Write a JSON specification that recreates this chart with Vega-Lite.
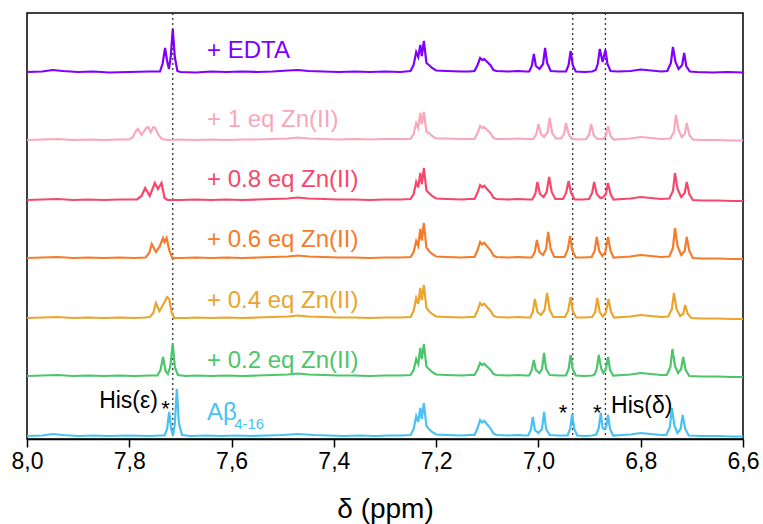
{
"$schema":"https://vega.github.io/schema/vega-lite/v6.json",
"width":716,"height":426,"autosize":"none",
"padding":{"left":27,"top":13,"right":20,"bottom":85},
"background":"white",
"config":{"view":{"stroke":"black","strokeWidth":1.5},"font":"Liberation Sans"},
"datasets":{
"spec":[
{"s":"EDTA","x":8.00,"y":367},{"s":"EDTA","x":7.97,"y":367.5},{"s":"EDTA","x":7.95,"y":369},{"s":"EDTA","x":7.93,"y":368},{"s":"EDTA","x":7.90,"y":367},{"s":"EDTA","x":7.87,"y":367.5},{"s":"EDTA","x":7.84,"y":366.5},{"s":"EDTA","x":7.80,"y":367},{"s":"EDTA","x":7.76,"y":367.5},{"s":"EDTA","x":7.740,"y":367.5},{"s":"EDTA","x":7.735,"y":375},{"s":"EDTA","x":7.730,"y":391},{"s":"EDTA","x":7.726,"y":378},{"s":"EDTA","x":7.7225,"y":370},{"s":"EDTA","x":7.719,"y":382},{"s":"EDTA","x":7.715,"y":410},{"s":"EDTA","x":7.711,"y":382},{"s":"EDTA","x":7.706,"y":368},{"s":"EDTA","x":7.70,"y":367},{"s":"EDTA","x":7.67,"y":366.5},{"s":"EDTA","x":7.64,"y":367.5},{"s":"EDTA","x":7.61,"y":367},{"s":"EDTA","x":7.58,"y":367.5},{"s":"EDTA","x":7.55,"y":367},{"s":"EDTA","x":7.52,"y":367.5},{"s":"EDTA","x":7.49,"y":368.5},{"s":"EDTA","x":7.47,"y":369},{"s":"EDTA","x":7.45,"y":368},{"s":"EDTA","x":7.42,"y":367.5},{"s":"EDTA","x":7.39,"y":367},{"s":"EDTA","x":7.36,"y":367.5},{"s":"EDTA","x":7.33,"y":367},{"s":"EDTA","x":7.30,"y":367.5},{"s":"EDTA","x":7.27,"y":367},
{"s":"EDTA","x":7.250,"y":368},{"s":"EDTA","x":7.244,"y":374},{"s":"EDTA","x":7.239,"y":387},{"s":"EDTA","x":7.235,"y":382},{"s":"EDTA","x":7.231,"y":394},{"s":"EDTA","x":7.228,"y":383},{"s":"EDTA","x":7.224,"y":398},{"s":"EDTA","x":7.219,"y":376},{"s":"EDTA","x":7.214,"y":374},{"s":"EDTA","x":7.208,"y":371},{"s":"EDTA","x":7.200,"y":368.5},{"s":"EDTA","x":7.18,"y":368},{"s":"EDTA","x":7.15,"y":367.5},{"s":"EDTA","x":7.135,"y":367.5},
{"s":"EDTA","x":7.125,"y":368},{"s":"EDTA","x":7.119,"y":374},{"s":"EDTA","x":7.114,"y":381},{"s":"EDTA","x":7.110,"y":379},{"s":"EDTA","x":7.106,"y":380},{"s":"EDTA","x":7.101,"y":377.5},{"s":"EDTA","x":7.097,"y":375.4},{"s":"EDTA","x":7.093,"y":373.3},{"s":"EDTA","x":7.088,"y":369},{"s":"EDTA","x":7.082,"y":368},{"s":"EDTA","x":7.06,"y":367.5},{"s":"EDTA","x":7.04,"y":368},{"s":"EDTA","x":7.025,"y":367.5},
{"s":"EDTA","x":7.018,"y":367.5},{"s":"EDTA","x":7.013,"y":373},{"s":"EDTA","x":7.009,"y":385},{"s":"EDTA","x":7.005,"y":373},{"s":"EDTA","x":6.998,"y":370},{"s":"EDTA","x":6.991,"y":375},{"s":"EDTA","x":6.987,"y":391},{"s":"EDTA","x":6.983,"y":376},{"s":"EDTA","x":6.976,"y":368},{"s":"EDTA","x":6.96,"y":367.5},
{"s":"EDTA","x":6.946,"y":367.5},{"s":"EDTA","x":6.941,"y":374},{"s":"EDTA","x":6.937,"y":388},{"s":"EDTA","x":6.933,"y":374},{"s":"EDTA","x":6.927,"y":367.5},{"s":"EDTA","x":6.91,"y":367},{"s":"EDTA","x":6.895,"y":367.5},
{"s":"EDTA","x":6.888,"y":369},{"s":"EDTA","x":6.884,"y":375},{"s":"EDTA","x":6.880,"y":390},{"s":"EDTA","x":6.8745,"y":377},{"s":"EDTA","x":6.869,"y":389},{"s":"EDTA","x":6.865,"y":375},{"s":"EDTA","x":6.859,"y":368},{"s":"EDTA","x":6.845,"y":367.5},{"s":"EDTA","x":6.82,"y":368},{"s":"EDTA","x":6.80,"y":369.5},{"s":"EDTA","x":6.78,"y":368.5},{"s":"EDTA","x":6.76,"y":367.5},
{"s":"EDTA","x":6.748,"y":368},{"s":"EDTA","x":6.741,"y":376},{"s":"EDTA","x":6.737,"y":392},{"s":"EDTA","x":6.732,"y":377},{"s":"EDTA","x":6.726,"y":370},{"s":"EDTA","x":6.719,"y":374},{"s":"EDTA","x":6.715,"y":386},{"s":"EDTA","x":6.711,"y":373},{"s":"EDTA","x":6.704,"y":367.5},{"s":"EDTA","x":6.69,"y":367},{"s":"EDTA","x":6.66,"y":366.5},{"s":"EDTA","x":6.63,"y":367},{"s":"EDTA","x":6.60,"y":366.5},

{"s":"1eq","x":8.00,"y":299},{"s":"1eq","x":7.97,"y":299.5},{"s":"1eq","x":7.94,"y":300},{"s":"1eq","x":7.91,"y":299},{"s":"1eq","x":7.88,"y":299.5},{"s":"1eq","x":7.85,"y":299},{"s":"1eq","x":7.82,"y":299.5},{"s":"1eq","x":7.80,"y":299.5},{"s":"1eq","x":7.793,"y":302},{"s":"1eq","x":7.787,"y":308},{"s":"1eq","x":7.783,"y":310},{"s":"1eq","x":7.776,"y":304},{"s":"1eq","x":7.767,"y":311},{"s":"1eq","x":7.763,"y":312},{"s":"1eq","x":7.758,"y":307},{"s":"1eq","x":7.753,"y":312},{"s":"1eq","x":7.749,"y":311},{"s":"1eq","x":7.743,"y":304},{"s":"1eq","x":7.736,"y":300},{"s":"1eq","x":7.725,"y":299},{"s":"1eq","x":7.70,"y":299.5},{"s":"1eq","x":7.67,"y":299},{"s":"1eq","x":7.64,"y":299.5},{"s":"1eq","x":7.61,"y":299},{"s":"1eq","x":7.58,"y":299.5},{"s":"1eq","x":7.55,"y":299.5},{"s":"1eq","x":7.52,"y":300},{"s":"1eq","x":7.49,"y":300.5},{"s":"1eq","x":7.47,"y":301.5},{"s":"1eq","x":7.45,"y":300.5},{"s":"1eq","x":7.42,"y":300},{"s":"1eq","x":7.39,"y":299.5},{"s":"1eq","x":7.36,"y":300},{"s":"1eq","x":7.33,"y":299.5},{"s":"1eq","x":7.30,"y":300},{"s":"1eq","x":7.27,"y":300},
{"s":"1eq","x":7.250,"y":300},{"s":"1eq","x":7.244,"y":305},{"s":"1eq","x":7.239,"y":316},{"s":"1eq","x":7.235,"y":311},{"s":"1eq","x":7.231,"y":326},{"s":"1eq","x":7.228,"y":315},{"s":"1eq","x":7.224,"y":327},{"s":"1eq","x":7.219,"y":307},{"s":"1eq","x":7.214,"y":306},{"s":"1eq","x":7.208,"y":303},{"s":"1eq","x":7.200,"y":300.5},{"s":"1eq","x":7.18,"y":300.5},{"s":"1eq","x":7.15,"y":300},{"s":"1eq","x":7.135,"y":300},
{"s":"1eq","x":7.125,"y":300},{"s":"1eq","x":7.119,"y":306},{"s":"1eq","x":7.114,"y":313},{"s":"1eq","x":7.110,"y":311},{"s":"1eq","x":7.106,"y":312},{"s":"1eq","x":7.101,"y":309.5},{"s":"1eq","x":7.097,"y":307.4},{"s":"1eq","x":7.093,"y":305.3},{"s":"1eq","x":7.088,"y":301},{"s":"1eq","x":7.082,"y":300},{"s":"1eq","x":7.06,"y":300},{"s":"1eq","x":7.04,"y":300.5},{"s":"1eq","x":7.02,"y":300},
{"s":"1eq","x":7.010,"y":300},{"s":"1eq","x":7.004,"y":305},{"s":"1eq","x":7.000,"y":315},{"s":"1eq","x":6.995,"y":305},{"s":"1eq","x":6.989,"y":302},{"s":"1eq","x":6.982,"y":307},{"s":"1eq","x":6.978,"y":321},{"s":"1eq","x":6.973,"y":306},{"s":"1eq","x":6.966,"y":300.5},
{"s":"1eq","x":6.956,"y":300.5},{"s":"1eq","x":6.950,"y":305},{"s":"1eq","x":6.946,"y":316},{"s":"1eq","x":6.941,"y":305},{"s":"1eq","x":6.935,"y":300},{"s":"1eq","x":6.92,"y":299.5},
{"s":"1eq","x":6.907,"y":300},{"s":"1eq","x":6.901,"y":304},{"s":"1eq","x":6.897,"y":315},{"s":"1eq","x":6.892,"y":304},{"s":"1eq","x":6.885,"y":300},
{"s":"1eq","x":6.874,"y":300},{"s":"1eq","x":6.868,"y":303},{"s":"1eq","x":6.864,"y":313},{"s":"1eq","x":6.859,"y":303},{"s":"1eq","x":6.853,"y":299.5},{"s":"1eq","x":6.835,"y":300},{"s":"1eq","x":6.82,"y":300.5},{"s":"1eq","x":6.80,"y":302},{"s":"1eq","x":6.78,"y":301},{"s":"1eq","x":6.76,"y":300},
{"s":"1eq","x":6.742,"y":300.5},{"s":"1eq","x":6.735,"y":307},{"s":"1eq","x":6.731,"y":324},{"s":"1eq","x":6.726,"y":309},{"s":"1eq","x":6.720,"y":302},{"s":"1eq","x":6.714,"y":305},{"s":"1eq","x":6.710,"y":316},{"s":"1eq","x":6.705,"y":304},{"s":"1eq","x":6.698,"y":299.5},{"s":"1eq","x":6.68,"y":299},{"s":"1eq","x":6.65,"y":299},{"s":"1eq","x":6.62,"y":298.5},{"s":"1eq","x":6.60,"y":298.5},

{"s":"0.8","x":8.00,"y":239},{"s":"0.8","x":7.97,"y":239.5},{"s":"0.8","x":7.94,"y":240},{"s":"0.8","x":7.91,"y":239},{"s":"0.8","x":7.88,"y":239.5},{"s":"0.8","x":7.85,"y":239},{"s":"0.8","x":7.82,"y":239.5},{"s":"0.8","x":7.795,"y":239.5},{"s":"0.8","x":7.785,"y":239.5},{"s":"0.8","x":7.776,"y":243},{"s":"0.8","x":7.769,"y":251},{"s":"0.8","x":7.760,"y":243},{"s":"0.8","x":7.750,"y":256},{"s":"0.8","x":7.744,"y":250},{"s":"0.8","x":7.737,"y":256},{"s":"0.8","x":7.731,"y":241},{"s":"0.8","x":7.725,"y":239},{"s":"0.8","x":7.70,"y":239},{"s":"0.8","x":7.67,"y":239.5},{"s":"0.8","x":7.64,"y":239},{"s":"0.8","x":7.61,"y":239.5},{"s":"0.8","x":7.58,"y":239},{"s":"0.8","x":7.55,"y":239.5},{"s":"0.8","x":7.52,"y":240},{"s":"0.8","x":7.49,"y":240.5},{"s":"0.8","x":7.47,"y":241.5},{"s":"0.8","x":7.45,"y":240.5},{"s":"0.8","x":7.42,"y":240},{"s":"0.8","x":7.39,"y":239.5},{"s":"0.8","x":7.36,"y":239.5},{"s":"0.8","x":7.33,"y":239},{"s":"0.8","x":7.30,"y":239.5},{"s":"0.8","x":7.27,"y":239.5},
{"s":"0.8","x":7.250,"y":240},{"s":"0.8","x":7.244,"y":245},{"s":"0.8","x":7.239,"y":257},{"s":"0.8","x":7.235,"y":251.6},{"s":"0.8","x":7.231,"y":266},{"s":"0.8","x":7.228,"y":255},{"s":"0.8","x":7.224,"y":271},{"s":"0.8","x":7.219,"y":248.6},{"s":"0.8","x":7.214,"y":246},{"s":"0.8","x":7.208,"y":243},{"s":"0.8","x":7.200,"y":240.5},{"s":"0.8","x":7.18,"y":240},{"s":"0.8","x":7.15,"y":239.5},{"s":"0.8","x":7.135,"y":240},
{"s":"0.8","x":7.125,"y":240},{"s":"0.8","x":7.119,"y":246.5},{"s":"0.8","x":7.114,"y":254},{"s":"0.8","x":7.110,"y":251.8},{"s":"0.8","x":7.106,"y":253.3},{"s":"0.8","x":7.101,"y":250.3},{"s":"0.8","x":7.097,"y":248},{"s":"0.8","x":7.093,"y":245.8},{"s":"0.8","x":7.088,"y":241.3},{"s":"0.8","x":7.082,"y":240},{"s":"0.8","x":7.06,"y":239.5},{"s":"0.8","x":7.04,"y":240},{"s":"0.8","x":7.02,"y":239.5},
{"s":"0.8","x":7.012,"y":239.5},{"s":"0.8","x":7.006,"y":245},{"s":"0.8","x":7.002,"y":257},{"s":"0.8","x":6.997,"y":245},{"s":"0.8","x":6.990,"y":242},{"s":"0.8","x":6.984,"y":247},{"s":"0.8","x":6.979,"y":262},{"s":"0.8","x":6.974,"y":247},{"s":"0.8","x":6.967,"y":240},
{"s":"0.8","x":6.952,"y":240},{"s":"0.8","x":6.946,"y":246},{"s":"0.8","x":6.941,"y":258},{"s":"0.8","x":6.936,"y":246},{"s":"0.8","x":6.929,"y":239.5},{"s":"0.8","x":6.915,"y":239.5},
{"s":"0.8","x":6.901,"y":240},{"s":"0.8","x":6.895,"y":246},{"s":"0.8","x":6.891,"y":257},{"s":"0.8","x":6.886,"y":245},{"s":"0.8","x":6.879,"y":241},{"s":"0.8","x":6.874,"y":241.5},{"s":"0.8","x":6.868,"y":245},{"s":"0.8","x":6.864,"y":256},{"s":"0.8","x":6.859,"y":245},{"s":"0.8","x":6.853,"y":239.5},{"s":"0.8","x":6.835,"y":240},{"s":"0.8","x":6.82,"y":240.5},{"s":"0.8","x":6.80,"y":242},{"s":"0.8","x":6.78,"y":241},{"s":"0.8","x":6.76,"y":240},
{"s":"0.8","x":6.744,"y":240.5},{"s":"0.8","x":6.737,"y":248},{"s":"0.8","x":6.733,"y":266},{"s":"0.8","x":6.728,"y":250},{"s":"0.8","x":6.721,"y":242},{"s":"0.8","x":6.714,"y":246},{"s":"0.8","x":6.710,"y":257},{"s":"0.8","x":6.705,"y":245},{"s":"0.8","x":6.698,"y":239},{"s":"0.8","x":6.68,"y":238.5},{"s":"0.8","x":6.65,"y":238.5},{"s":"0.8","x":6.62,"y":238},{"s":"0.8","x":6.60,"y":238},

{"s":"0.6","x":8.00,"y":181},{"s":"0.6","x":7.97,"y":181.5},{"s":"0.6","x":7.94,"y":182},{"s":"0.6","x":7.91,"y":181},{"s":"0.6","x":7.88,"y":181.5},{"s":"0.6","x":7.85,"y":181},{"s":"0.6","x":7.82,"y":181.5},{"s":"0.6","x":7.79,"y":181},{"s":"0.6","x":7.768,"y":181.5},{"s":"0.6","x":7.761,"y":186},{"s":"0.6","x":7.756,"y":195},{"s":"0.6","x":7.748,"y":187},{"s":"0.6","x":7.741,"y":192},{"s":"0.6","x":7.734,"y":201},{"s":"0.6","x":7.731,"y":197},{"s":"0.6","x":7.727,"y":201},{"s":"0.6","x":7.722,"y":189},{"s":"0.6","x":7.716,"y":181},{"s":"0.6","x":7.70,"y":181},{"s":"0.6","x":7.67,"y":181.5},{"s":"0.6","x":7.64,"y":181},{"s":"0.6","x":7.61,"y":181.5},{"s":"0.6","x":7.58,"y":181},{"s":"0.6","x":7.55,"y":181.5},{"s":"0.6","x":7.52,"y":182},{"s":"0.6","x":7.49,"y":182.5},{"s":"0.6","x":7.47,"y":183.5},{"s":"0.6","x":7.45,"y":182.5},{"s":"0.6","x":7.42,"y":182},{"s":"0.6","x":7.39,"y":181.5},{"s":"0.6","x":7.36,"y":181.5},{"s":"0.6","x":7.33,"y":181},{"s":"0.6","x":7.30,"y":181.5},{"s":"0.6","x":7.27,"y":181.5},
{"s":"0.6","x":7.250,"y":182},{"s":"0.6","x":7.244,"y":187},{"s":"0.6","x":7.239,"y":198},{"s":"0.6","x":7.235,"y":193},{"s":"0.6","x":7.231,"y":210},{"s":"0.6","x":7.228,"y":198.4},{"s":"0.6","x":7.224,"y":216},{"s":"0.6","x":7.219,"y":191.5},{"s":"0.6","x":7.214,"y":188},{"s":"0.6","x":7.208,"y":185},{"s":"0.6","x":7.200,"y":182.5},{"s":"0.6","x":7.18,"y":182},{"s":"0.6","x":7.15,"y":181.5},{"s":"0.6","x":7.135,"y":182},
{"s":"0.6","x":7.125,"y":182},{"s":"0.6","x":7.119,"y":189},{"s":"0.6","x":7.114,"y":197},{"s":"0.6","x":7.110,"y":194.6},{"s":"0.6","x":7.106,"y":196.2},{"s":"0.6","x":7.101,"y":193},{"s":"0.6","x":7.097,"y":190.6},{"s":"0.6","x":7.093,"y":188.2},{"s":"0.6","x":7.088,"y":183.4},{"s":"0.6","x":7.082,"y":182},{"s":"0.6","x":7.06,"y":181.5},{"s":"0.6","x":7.04,"y":182},{"s":"0.6","x":7.02,"y":181.5},
{"s":"0.6","x":7.013,"y":181.5},{"s":"0.6","x":7.007,"y":187},{"s":"0.6","x":7.003,"y":199},{"s":"0.6","x":6.998,"y":187},{"s":"0.6","x":6.991,"y":184},{"s":"0.6","x":6.985,"y":190},{"s":"0.6","x":6.981,"y":207},{"s":"0.6","x":6.976,"y":190},{"s":"0.6","x":6.969,"y":182},
{"s":"0.6","x":6.949,"y":182},{"s":"0.6","x":6.943,"y":189},{"s":"0.6","x":6.938,"y":203},{"s":"0.6","x":6.934,"y":189},{"s":"0.6","x":6.927,"y":181.5},{"s":"0.6","x":6.912,"y":181.5},
{"s":"0.6","x":6.896,"y":182},{"s":"0.6","x":6.890,"y":188},{"s":"0.6","x":6.886,"y":202},{"s":"0.6","x":6.881,"y":188},{"s":"0.6","x":6.875,"y":183},{"s":"0.6","x":6.869,"y":187},{"s":"0.6","x":6.864,"y":202},{"s":"0.6","x":6.859,"y":188},{"s":"0.6","x":6.853,"y":181.5},{"s":"0.6","x":6.835,"y":182},{"s":"0.6","x":6.82,"y":182.5},{"s":"0.6","x":6.80,"y":184},{"s":"0.6","x":6.78,"y":183},{"s":"0.6","x":6.76,"y":182},
{"s":"0.6","x":6.744,"y":182.5},{"s":"0.6","x":6.737,"y":191},{"s":"0.6","x":6.733,"y":211},{"s":"0.6","x":6.728,"y":193},{"s":"0.6","x":6.721,"y":184},{"s":"0.6","x":6.714,"y":188},{"s":"0.6","x":6.710,"y":202},{"s":"0.6","x":6.705,"y":188},{"s":"0.6","x":6.698,"y":181},{"s":"0.6","x":6.68,"y":180.5},{"s":"0.6","x":6.65,"y":180.5},{"s":"0.6","x":6.62,"y":180},{"s":"0.6","x":6.60,"y":180},

{"s":"0.4","x":8.00,"y":121},{"s":"0.4","x":7.97,"y":121.5},{"s":"0.4","x":7.94,"y":122},{"s":"0.4","x":7.91,"y":121},{"s":"0.4","x":7.88,"y":121.5},{"s":"0.4","x":7.85,"y":121},{"s":"0.4","x":7.82,"y":121.5},{"s":"0.4","x":7.79,"y":121},{"s":"0.4","x":7.770,"y":121.5},{"s":"0.4","x":7.760,"y":122},{"s":"0.4","x":7.753,"y":126},{"s":"0.4","x":7.748,"y":136},{"s":"0.4","x":7.741,"y":128},{"s":"0.4","x":7.733,"y":135},{"s":"0.4","x":7.726,"y":142},{"s":"0.4","x":7.722,"y":140},{"s":"0.4","x":7.717,"y":126},{"s":"0.4","x":7.712,"y":121},{"s":"0.4","x":7.69,"y":121},{"s":"0.4","x":7.67,"y":121.5},{"s":"0.4","x":7.64,"y":121},{"s":"0.4","x":7.61,"y":121.5},{"s":"0.4","x":7.58,"y":121},{"s":"0.4","x":7.55,"y":121.5},{"s":"0.4","x":7.52,"y":122},{"s":"0.4","x":7.49,"y":122.5},{"s":"0.4","x":7.47,"y":123.5},{"s":"0.4","x":7.45,"y":122.5},{"s":"0.4","x":7.42,"y":122},{"s":"0.4","x":7.39,"y":121.5},{"s":"0.4","x":7.36,"y":121.5},{"s":"0.4","x":7.33,"y":121},{"s":"0.4","x":7.30,"y":121.5},{"s":"0.4","x":7.27,"y":121.5},
{"s":"0.4","x":7.250,"y":122},{"s":"0.4","x":7.244,"y":128},{"s":"0.4","x":7.239,"y":141},{"s":"0.4","x":7.235,"y":135},{"s":"0.4","x":7.231,"y":151},{"s":"0.4","x":7.228,"y":139},{"s":"0.4","x":7.224,"y":154},{"s":"0.4","x":7.219,"y":131},{"s":"0.4","x":7.214,"y":128},{"s":"0.4","x":7.208,"y":125},{"s":"0.4","x":7.200,"y":122.5},{"s":"0.4","x":7.18,"y":122},{"s":"0.4","x":7.15,"y":121.5},{"s":"0.4","x":7.135,"y":122},
{"s":"0.4","x":7.125,"y":122},{"s":"0.4","x":7.119,"y":128.5},{"s":"0.4","x":7.114,"y":136},{"s":"0.4","x":7.110,"y":133.8},{"s":"0.4","x":7.106,"y":135.3},{"s":"0.4","x":7.101,"y":132.3},{"s":"0.4","x":7.097,"y":130},{"s":"0.4","x":7.093,"y":127.8},{"s":"0.4","x":7.088,"y":123.3},{"s":"0.4","x":7.082,"y":122},{"s":"0.4","x":7.06,"y":121.5},{"s":"0.4","x":7.04,"y":122},{"s":"0.4","x":7.022,"y":121.5},
{"s":"0.4","x":7.016,"y":121.5},{"s":"0.4","x":7.011,"y":127},{"s":"0.4","x":7.007,"y":140},{"s":"0.4","x":7.002,"y":127},{"s":"0.4","x":6.995,"y":124},{"s":"0.4","x":6.988,"y":129},{"s":"0.4","x":6.983,"y":146},{"s":"0.4","x":6.978,"y":129},{"s":"0.4","x":6.971,"y":122},
{"s":"0.4","x":6.948,"y":122},{"s":"0.4","x":6.942,"y":128},{"s":"0.4","x":6.937,"y":142},{"s":"0.4","x":6.933,"y":128},{"s":"0.4","x":6.926,"y":121.5},{"s":"0.4","x":6.910,"y":121.5},
{"s":"0.4","x":6.895,"y":122},{"s":"0.4","x":6.889,"y":127},{"s":"0.4","x":6.885,"y":141},{"s":"0.4","x":6.880,"y":127},{"s":"0.4","x":6.874,"y":122.5},{"s":"0.4","x":6.868,"y":127},{"s":"0.4","x":6.863,"y":140},{"s":"0.4","x":6.858,"y":127},{"s":"0.4","x":6.852,"y":121.5},{"s":"0.4","x":6.835,"y":122},{"s":"0.4","x":6.82,"y":122.5},{"s":"0.4","x":6.80,"y":124},{"s":"0.4","x":6.78,"y":123},{"s":"0.4","x":6.76,"y":122},
{"s":"0.4","x":6.746,"y":122.5},{"s":"0.4","x":6.739,"y":130},{"s":"0.4","x":6.735,"y":146},{"s":"0.4","x":6.730,"y":130},{"s":"0.4","x":6.723,"y":123},{"s":"0.4","x":6.717,"y":125},{"s":"0.4","x":6.713,"y":134},{"s":"0.4","x":6.708,"y":125},{"s":"0.4","x":6.701,"y":121},{"s":"0.4","x":6.68,"y":120.5},{"s":"0.4","x":6.65,"y":120.5},{"s":"0.4","x":6.62,"y":120},{"s":"0.4","x":6.60,"y":120},

{"s":"0.2","x":8.00,"y":63},{"s":"0.2","x":7.97,"y":63.5},{"s":"0.2","x":7.94,"y":64},{"s":"0.2","x":7.91,"y":63},{"s":"0.2","x":7.88,"y":63.5},{"s":"0.2","x":7.85,"y":63},{"s":"0.2","x":7.82,"y":63.5},{"s":"0.2","x":7.79,"y":63},{"s":"0.2","x":7.76,"y":63.5},{"s":"0.2","x":7.745,"y":63.5},{"s":"0.2","x":7.739,"y":69},{"s":"0.2","x":7.734,"y":82},{"s":"0.2","x":7.729,"y":68},{"s":"0.2","x":7.7245,"y":65},{"s":"0.2","x":7.720,"y":72},{"s":"0.2","x":7.715,"y":96},{"s":"0.2","x":7.711,"y":72},{"s":"0.2","x":7.705,"y":64},{"s":"0.2","x":7.69,"y":63},{"s":"0.2","x":7.67,"y":63.5},{"s":"0.2","x":7.64,"y":63},{"s":"0.2","x":7.61,"y":63.5},{"s":"0.2","x":7.58,"y":63},{"s":"0.2","x":7.55,"y":63.5},{"s":"0.2","x":7.52,"y":64},{"s":"0.2","x":7.49,"y":64.5},{"s":"0.2","x":7.47,"y":65.5},{"s":"0.2","x":7.45,"y":64.5},{"s":"0.2","x":7.42,"y":64},{"s":"0.2","x":7.39,"y":63.5},{"s":"0.2","x":7.36,"y":63.5},{"s":"0.2","x":7.33,"y":63},{"s":"0.2","x":7.30,"y":63.5},{"s":"0.2","x":7.27,"y":63.5},
{"s":"0.2","x":7.250,"y":64},{"s":"0.2","x":7.244,"y":69},{"s":"0.2","x":7.239,"y":80},{"s":"0.2","x":7.235,"y":75},{"s":"0.2","x":7.231,"y":91},{"s":"0.2","x":7.228,"y":80},{"s":"0.2","x":7.224,"y":95},{"s":"0.2","x":7.219,"y":72.6},{"s":"0.2","x":7.214,"y":70},{"s":"0.2","x":7.208,"y":67},{"s":"0.2","x":7.200,"y":64.5},{"s":"0.2","x":7.18,"y":64},{"s":"0.2","x":7.15,"y":63.5},{"s":"0.2","x":7.135,"y":64},
{"s":"0.2","x":7.125,"y":64},{"s":"0.2","x":7.119,"y":69.5},{"s":"0.2","x":7.114,"y":76},{"s":"0.2","x":7.110,"y":74},{"s":"0.2","x":7.106,"y":75.4},{"s":"0.2","x":7.101,"y":72.8},{"s":"0.2","x":7.097,"y":70.8},{"s":"0.2","x":7.093,"y":68.9},{"s":"0.2","x":7.088,"y":65},{"s":"0.2","x":7.082,"y":64},{"s":"0.2","x":7.06,"y":63.5},{"s":"0.2","x":7.04,"y":64},{"s":"0.2","x":7.025,"y":63.5},
{"s":"0.2","x":7.018,"y":63.5},{"s":"0.2","x":7.013,"y":69},{"s":"0.2","x":7.009,"y":79},{"s":"0.2","x":7.005,"y":69},{"s":"0.2","x":6.998,"y":66},{"s":"0.2","x":6.993,"y":70},{"s":"0.2","x":6.989,"y":86},{"s":"0.2","x":6.985,"y":70},{"s":"0.2","x":6.978,"y":64},{"s":"0.2","x":6.96,"y":63.5},
{"s":"0.2","x":6.946,"y":63.5},{"s":"0.2","x":6.941,"y":70},{"s":"0.2","x":6.937,"y":84},{"s":"0.2","x":6.933,"y":70},{"s":"0.2","x":6.927,"y":63.5},{"s":"0.2","x":6.91,"y":63},{"s":"0.2","x":6.895,"y":63.5},
{"s":"0.2","x":6.890,"y":64.5},{"s":"0.2","x":6.886,"y":70},{"s":"0.2","x":6.882,"y":84},{"s":"0.2","x":6.877,"y":70},{"s":"0.2","x":6.873,"y":66},{"s":"0.2","x":6.868,"y":70},{"s":"0.2","x":6.864,"y":82},{"s":"0.2","x":6.860,"y":69},{"s":"0.2","x":6.854,"y":63.5},{"s":"0.2","x":6.835,"y":64},{"s":"0.2","x":6.82,"y":64.5},{"s":"0.2","x":6.80,"y":66},{"s":"0.2","x":6.78,"y":65},{"s":"0.2","x":6.76,"y":64},
{"s":"0.2","x":6.749,"y":64},{"s":"0.2","x":6.742,"y":72},{"s":"0.2","x":6.738,"y":90},{"s":"0.2","x":6.733,"y":73},{"s":"0.2","x":6.727,"y":66},{"s":"0.2","x":6.721,"y":70},{"s":"0.2","x":6.717,"y":82},{"s":"0.2","x":6.712,"y":69},{"s":"0.2","x":6.705,"y":63},{"s":"0.2","x":6.68,"y":62.5},{"s":"0.2","x":6.65,"y":62.5},{"s":"0.2","x":6.62,"y":62},{"s":"0.2","x":6.60,"y":62},

{"s":"Ab","x":8.00,"y":3},{"s":"Ab","x":7.97,"y":3.5},{"s":"Ab","x":7.95,"y":5},{"s":"Ab","x":7.93,"y":4},{"s":"Ab","x":7.90,"y":3},{"s":"Ab","x":7.87,"y":3.5},{"s":"Ab","x":7.84,"y":3},{"s":"Ab","x":7.80,"y":3.5},{"s":"Ab","x":7.76,"y":3},{"s":"Ab","x":7.74,"y":3.5},{"s":"Ab","x":7.731,"y":3.5},{"s":"Ab","x":7.726,"y":10},{"s":"Ab","x":7.722,"y":27},{"s":"Ab","x":7.718,"y":10},{"s":"Ab","x":7.7145,"y":3},{"s":"Ab","x":7.711,"y":15},{"s":"Ab","x":7.707,"y":50},{"s":"Ab","x":7.703,"y":16},{"s":"Ab","x":7.697,"y":4},{"s":"Ab","x":7.68,"y":3},{"s":"Ab","x":7.65,"y":3.5},{"s":"Ab","x":7.62,"y":3},{"s":"Ab","x":7.59,"y":3.5},{"s":"Ab","x":7.56,"y":3},{"s":"Ab","x":7.53,"y":3.5},{"s":"Ab","x":7.50,"y":4},{"s":"Ab","x":7.47,"y":5},{"s":"Ab","x":7.44,"y":4},{"s":"Ab","x":7.41,"y":3.5},{"s":"Ab","x":7.38,"y":3},{"s":"Ab","x":7.35,"y":3.5},{"s":"Ab","x":7.32,"y":3},{"s":"Ab","x":7.29,"y":3.5},{"s":"Ab","x":7.27,"y":3.5},
{"s":"Ab","x":7.250,"y":4},{"s":"Ab","x":7.244,"y":10},{"s":"Ab","x":7.239,"y":23},{"s":"Ab","x":7.235,"y":17},{"s":"Ab","x":7.231,"y":31},{"s":"Ab","x":7.228,"y":20},{"s":"Ab","x":7.224,"y":36},{"s":"Ab","x":7.219,"y":13},{"s":"Ab","x":7.214,"y":10},{"s":"Ab","x":7.208,"y":7},{"s":"Ab","x":7.200,"y":4.5},{"s":"Ab","x":7.18,"y":4},{"s":"Ab","x":7.15,"y":3.5},{"s":"Ab","x":7.135,"y":4},
{"s":"Ab","x":7.125,"y":4},{"s":"Ab","x":7.119,"y":11},{"s":"Ab","x":7.114,"y":19},{"s":"Ab","x":7.110,"y":16.6},{"s":"Ab","x":7.106,"y":18.2},{"s":"Ab","x":7.101,"y":15},{"s":"Ab","x":7.097,"y":12.6},{"s":"Ab","x":7.093,"y":10.2},{"s":"Ab","x":7.088,"y":5.4},{"s":"Ab","x":7.082,"y":4},{"s":"Ab","x":7.06,"y":3.5},{"s":"Ab","x":7.04,"y":4},{"s":"Ab","x":7.027,"y":3.5},
{"s":"Ab","x":7.020,"y":3.5},{"s":"Ab","x":7.015,"y":9},{"s":"Ab","x":7.011,"y":22},{"s":"Ab","x":7.007,"y":9},{"s":"Ab","x":7.000,"y":6},{"s":"Ab","x":6.993,"y":10},{"s":"Ab","x":6.989,"y":27},{"s":"Ab","x":6.985,"y":10},{"s":"Ab","x":6.978,"y":4},{"s":"Ab","x":6.96,"y":3.5},
{"s":"Ab","x":6.943,"y":3.5},{"s":"Ab","x":6.938,"y":10},{"s":"Ab","x":6.934,"y":25},{"s":"Ab","x":6.930,"y":10},{"s":"Ab","x":6.924,"y":3.5},{"s":"Ab","x":6.91,"y":3},{"s":"Ab","x":6.895,"y":3.5},
{"s":"Ab","x":6.887,"y":4.5},{"s":"Ab","x":6.882,"y":11},{"s":"Ab","x":6.878,"y":26},{"s":"Ab","x":6.8745,"y":11},{"s":"Ab","x":6.871,"y":10},{"s":"Ab","x":6.8675,"y":12},{"s":"Ab","x":6.864,"y":24},{"s":"Ab","x":6.860,"y":10},{"s":"Ab","x":6.854,"y":3.5},{"s":"Ab","x":6.835,"y":4},{"s":"Ab","x":6.82,"y":4.5},{"s":"Ab","x":6.80,"y":6},{"s":"Ab","x":6.78,"y":5},{"s":"Ab","x":6.76,"y":4},
{"s":"Ab","x":6.750,"y":4},{"s":"Ab","x":6.743,"y":12},{"s":"Ab","x":6.739,"y":31},{"s":"Ab","x":6.734,"y":13},{"s":"Ab","x":6.728,"y":6},{"s":"Ab","x":6.722,"y":10},{"s":"Ab","x":6.718,"y":24},{"s":"Ab","x":6.713,"y":10},{"s":"Ab","x":6.706,"y":3.5},{"s":"Ab","x":6.68,"y":3},{"s":"Ab","x":6.65,"y":3},{"s":"Ab","x":6.62,"y":2.5},{"s":"Ab","x":6.60,"y":2.5}
],
"labels":[
{"s":"EDTA","t":"+ EDTA","x":7.648,"y":381},
{"s":"1eq","t":"+ 1 eq Zn(II)","x":7.648,"y":312},
{"s":"0.8","t":"+ 0.8 eq Zn(II)","x":7.648,"y":252},
{"s":"0.6","t":"+ 0.6 eq Zn(II)","x":7.648,"y":192},
{"s":"0.4","t":"+ 0.4 eq Zn(II)","x":7.648,"y":131},
{"s":"0.2","t":"+ 0.2 eq Zn(II)","x":7.648,"y":71},
{"s":"Ab","t":"Aβ","x":7.648,"y":19}
],
"sub":[{"s":"Ab","t":"4-16","x":7.595,"y":10}],
"noteL":[{"t":"His(ε)","x":7.744,"y":31}],
"noteR":[{"t":"His(δ)","x":6.858,"y":26}],
"stars":[{"x":7.729,"y":23},{"x":6.952,"y":19},{"x":6.885,"y":19}],
"rules":[{"x":7.715},{"x":6.933},{"x":6.869}]
},
"layer":[
{"data":{"name":"rules"},"mark":{"type":"rule","color":"#333333","strokeDash":[2,3],"strokeWidth":1.3},
 "encoding":{"x":{"field":"x","type":"quantitative","scale":{"domain":[8.0,6.6],"zero":false,"nice":false}}}},
{"data":{"name":"spec"},"mark":{"type":"line","strokeWidth":2.2,"clip":true},
 "encoding":{
  "x":{"field":"x","type":"quantitative","scale":{"domain":[8.0,6.6],"zero":false,"nice":false},
   "axis":{"title":"δ (ppm)","values":[8.0,7.8,7.6,7.4,7.2,7.0,6.8,6.6],"labelExpr":"replace(format(datum.value,'.1f'),'.',',')",
    "grid":false,"labelFont":"Liberation Sans","labelFontSize":23,"labelColor":"black","labelPadding":3,
    "tickColor":"black","tickSize":8,"tickWidth":1.5,"domainColor":"black","domainWidth":1.5,
    "titleFont":"Liberation Sans","titleFontSize":28,"titleFontWeight":"normal","titleColor":"black","titlePadding":22,"labelFlush":false}},
  "y":{"field":"y","type":"quantitative","scale":{"domain":[0,426],"nice":false,"zero":false},"axis":null},
  "color":{"field":"s","type":"nominal","legend":null,
   "scale":{"domain":["EDTA","1eq","0.8","0.6","0.4","0.2","Ab"],"range":["#7f00ff","#f9a8bc","#f5486c","#f47c2a","#eba42c","#4cc56b","#48c2f3"]}},
  "detail":{"field":"s"}
 }},
{"data":{"name":"labels"},"mark":{"type":"text","align":"left","baseline":"alphabetic","font":"Liberation Sans","fontSize":24},
 "encoding":{"x":{"field":"x","type":"quantitative"},"y":{"field":"y","type":"quantitative"},"text":{"field":"t"},
  "color":{"field":"s","type":"nominal","legend":null}}},
{"data":{"name":"sub"},"mark":{"type":"text","align":"left","baseline":"alphabetic","font":"Liberation Sans","fontSize":15},
 "encoding":{"x":{"field":"x","type":"quantitative"},"y":{"field":"y","type":"quantitative"},"text":{"field":"t"},
  "color":{"field":"s","type":"nominal","legend":null}}},
{"data":{"name":"noteL"},"mark":{"type":"text","align":"right","baseline":"alphabetic","font":"Liberation Sans","fontSize":23,"color":"black"},
 "encoding":{"x":{"field":"x","type":"quantitative"},"y":{"field":"y","type":"quantitative"},"text":{"field":"t"}}},
{"data":{"name":"noteR"},"mark":{"type":"text","align":"left","baseline":"alphabetic","font":"Liberation Sans","fontSize":23,"color":"black"},
 "encoding":{"x":{"field":"x","type":"quantitative"},"y":{"field":"y","type":"quantitative"},"text":{"field":"t"}}},
{"data":{"name":"stars"},"mark":{"type":"text","align":"center","baseline":"alphabetic","font":"Liberation Sans","fontSize":22,"color":"black","text":"*"},
 "encoding":{"x":{"field":"x","type":"quantitative"},"y":{"field":"y","type":"quantitative"}}}
]
}
